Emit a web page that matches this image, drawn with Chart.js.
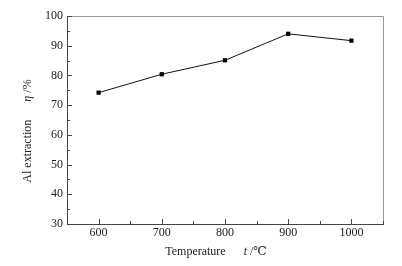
<!DOCTYPE html>
<html>
<head>
<meta charset="utf-8">
<script src="https://cdn.jsdelivr.net/npm/chart.js@4"></script>
<style>
  html, body { margin: 0; padding: 0; background: #fff; }
  #wrap { width: 402px; height: 266px; }
</style>
</head>
<body>
<div id="wrap"><canvas id="chart" width="402" height="266"></canvas></div>
<script>
// データ
const temperatures = [600, 700, 800, 900, 1000];
const alExtraction = [74.2, 80.4, 85.1, 94.0, 91.7];
const xTickLabels = [600, 700, 800, 900, 1000];
const yTickLabels = [30, 40, 50, 60, 70, 80, 90, 100];

const FONT = "'Liberation Serif', 'DejaVu Serif', serif";

// 内向きの目盛りと枠線、軸タイトルを描く
const framePlugin = {
    id: "frame",
    afterDraw(chart) {
        const { ctx, chartArea: a, scales } = chart;
        ctx.save();
        // 上・右の枠
        ctx.strokeStyle = "#9a9a9a";
        ctx.lineWidth = 1;
        ctx.beginPath();
        ctx.moveTo(a.left, a.top + 0.5);
        ctx.lineTo(a.right + 0.5, a.top + 0.5);
        ctx.lineTo(a.right + 0.5, a.bottom);
        ctx.stroke();

        // 目盛り
        ctx.strokeStyle = "#444";
        ctx.beginPath();
        scales.y.ticks.forEach((t) => {
            const y = Math.round(scales.y.getPixelForValue(t.value)) + 0.5;
            const len = t.value % 10 === 0 ? 5 : 3;
            ctx.moveTo(a.left, y);
            ctx.lineTo(a.left + len, y);
        });
        scales.x.ticks.forEach((t) => {
            const x = Math.round(scales.x.getPixelForValue(t.value)) + 0.5;
            const len = t.value % 100 === 0 ? 5 : 3;
            ctx.moveTo(x, a.bottom);
            ctx.lineTo(x, a.bottom - len);
        });
        ctx.stroke();

        // 軸タイトル (イタリック混在)
        ctx.fillStyle = "#222";
        ctx.textBaseline = "middle";
        const drawParts = (parts, cx, cy, rotate) => {
            ctx.save();
            ctx.translate(cx, cy);
            if (rotate) ctx.rotate(-Math.PI / 2);
            let total = 0;
            parts.forEach((p) => {
                ctx.font = (p.italic ? "italic " : "") + "12px " + FONT;
                total += ctx.measureText(p.text).width;
            });
            let x = -total / 2;
            ctx.textAlign = "left";
            parts.forEach((p) => {
                ctx.font = (p.italic ? "italic " : "") + "12px " + FONT;
                ctx.fillText(p.text, x, 0);
                x += ctx.measureText(p.text).width;
            });
            ctx.restore();
        };
        drawParts([
            { text: "Temperature      " },
            { text: "t", italic: true },
            { text: " /℃" },
        ], 216, 252, false);
        drawParts([
            { text: "Al extraction      " },
            { text: "η", italic: true },
            { text: " /%" },
        ], 28, 131, true);
        ctx.restore();
    },
};

const ctx = document.getElementById("chart").getContext("2d");
new Chart(ctx, {
    type: "line",
    data: {
        datasets: [
            {
                data: temperatures.map((t, i) => ({ x: t, y: alExtraction[i] })),
                borderColor: "#111",
                borderWidth: 1,
                backgroundColor: "#000",
                pointStyle: "rect",
                pointRadius: 3,
                pointBorderWidth: 0,
                fill: false,
                tension: 0,
            },
        ],
    },
    options: {
        responsive: false,
        animation: false,
        layout: { padding: { top: 16, right: 19, bottom: 0, left: 0 } },
        plugins: {
            legend: { display: false },
            tooltip: { enabled: false },
        },
        scales: {
            x: {
                type: "linear",
                min: 550,
                max: 1050,
                ticks: {
                    stepSize: 50,
                    autoSkip: false,
                    maxRotation: 0,
                    padding: 2,
                    color: "#222",
                    font: { family: FONT, size: 12 },
                    callback: (v) => (xTickLabels.includes(v) ? String(v) : ""),
                },
                grid: { display: true, drawOnChartArea: false, drawTicks: false },
                border: { color: "#444", width: 1 },
                afterFit: (s) => { s.height = 42; },
            },
            y: {
                min: 30,
                max: 100,
                ticks: {
                    stepSize: 5,
                    autoSkip: false,
                    padding: 4,
                    color: "#222",
                    font: { family: FONT, size: 12 },
                    callback: (v) => (yTickLabels.includes(v) ? String(v) : ""),
                },
                grid: { display: true, drawOnChartArea: false, drawTicks: false },
                border: { color: "#444", width: 1 },
                afterFit: (s) => { s.width = 67; },
            },
        },
    },
    plugins: [framePlugin],
});
</script>
</body>
</html>
